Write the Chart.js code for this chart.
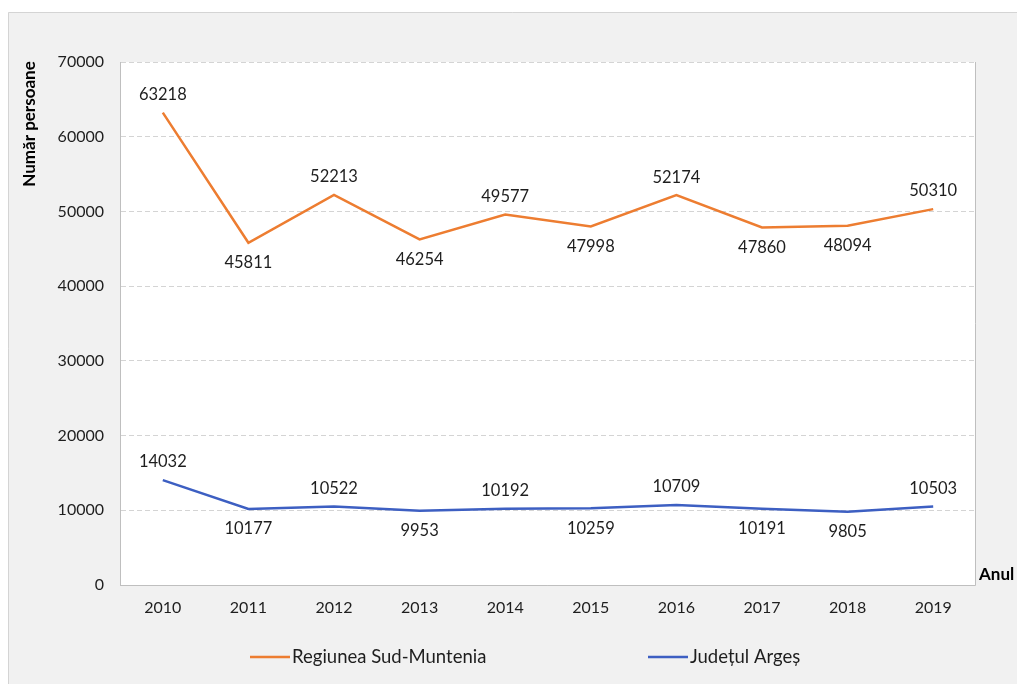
<!DOCTYPE html>
<html>
<head>
<meta charset="utf-8">
<script src="https://cdn.jsdelivr.net/npm/chart.js@4.4.1/dist/chart.umd.min.js"></script>
<style>
    html, body { margin: 0; padding: 0; background: #fff; }
    #wrap { position: relative; width: 1017px; height: 684px; }
</style>
</head>
<body>
<div id="wrap"><canvas id="chart" width="1017" height="684"></canvas></div>
<script>
// Data
const years = ['2010', '2011', '2012', '2013', '2014', '2015', '2016', '2017', '2018', '2019'];
const sudMuntenia = [63218, 45811, 52213, 46254, 49577, 47998, 52174, 47860, 48094, 50310];
const arges = [14032, 10177, 10522, 9953, 10192, 10259, 10709, 10191, 9805, 10503];
const yTicks = [0, 10000, 20000, 30000, 40000, 50000, 60000, 70000];

// label above (-1) or below (+1) each point
const labelSide = [-1, 1, -1, 1, -1, 1, -1, 1, 1, -1];

const FONT = 'Lato, "Open Sans", sans-serif';

const framePlugin = {
    id: 'frame',
    beforeDraw: (chart) => {
        const { ctx, chartArea: a, width, height } = chart;
        ctx.save();
        ctx.fillStyle = '#f1f1f1';
        ctx.fillRect(0, 0, width, height);
        ctx.fillStyle = '#ffffff';
        ctx.fillRect(0, 0, width, 12);
        ctx.fillRect(0, 0, 8, height);
        ctx.strokeStyle = '#d4d4d4';
        ctx.lineWidth = 1;
        ctx.beginPath();
        ctx.moveTo(8.5, height);
        ctx.lineTo(8.5, 12.5);
        ctx.lineTo(width, 12.5);
        ctx.stroke();
        // plot area
        ctx.fillStyle = '#ffffff';
        ctx.fillRect(a.left, a.top, a.right - a.left, a.bottom - a.top);
        ctx.restore();
    },
    beforeDatasetsDraw: (chart) => {
        const { ctx, chartArea: a } = chart;
        ctx.save();
        ctx.strokeStyle = '#bfbfbf';
        ctx.lineWidth = 1;
        ctx.beginPath();
        ctx.moveTo(a.left, Math.round(a.bottom) + 0.5);
        ctx.lineTo(a.right - 0.5, Math.round(a.bottom) + 0.5);
        ctx.lineTo(a.right - 0.5, a.top);
        ctx.stroke();
        ctx.restore();
    },
    afterDraw: (chart) => {
        const { ctx } = chart;
        ctx.save();
        // axis titles
        ctx.fillStyle = '#000';
        ctx.font = 'bold 17px ' + FONT;
        ctx.textAlign = 'center';
        ctx.textBaseline = 'middle';
        ctx.translate(30, 124);
        ctx.rotate(-Math.PI / 2);
        ctx.fillText('Număr persoane', 0, 0);
        ctx.setTransform(1, 0, 0, 1, 0, 0);
        ctx.textAlign = 'left';
        ctx.font = 'bold 17px ' + FONT;
        ctx.fillText('Anul', 979, 575);

        // data labels
        ctx.font = '16.5px ' + FONT;
        ctx.fillStyle = '#1e1e1e';
        ctx.textAlign = 'center';
        chart.data.datasets.forEach((ds, i) => {
            const meta = chart.getDatasetMeta(i);
            meta.data.forEach((pt, j) => {
                const side = labelSide[j];
                const y = pt.y + side * (side < 0 ? 18 : 20);
                ctx.fillText(String(ds.data[j]), pt.x, y);
            });
        });

        // legend
        ctx.font = '18.5px ' + FONT;
        ctx.textAlign = 'left';
        ctx.fillStyle = '#1e1e1e';
        const legendX = [250, 648];
        chart.data.datasets.forEach((ds, i) => {
            const x = legendX[i];
            const y = 657;
            ctx.strokeStyle = ds.borderColor;
            ctx.lineWidth = 2.5;
            ctx.beginPath();
            ctx.moveTo(x, y);
            ctx.lineTo(x + 40, y);
            ctx.stroke();
            ctx.fillText(ds.label, x + 42, y);
        });
        ctx.restore();
    }
};

const config = {
    type: 'line',
    data: {
        labels: years,
        datasets: [{
            label: 'Regiunea Sud-Muntenia',
            data: sudMuntenia,
            borderColor: '#ed7d31',
            backgroundColor: '#ed7d31',
            borderWidth: 2.5,
            pointRadius: 0,
            tension: 0
        }, {
            label: 'Județul Argeș',
            data: arges,
            borderColor: '#3d5fc2',
            backgroundColor: '#3d5fc2',
            borderWidth: 2.5,
            pointRadius: 0,
            tension: 0
        }]
    },
    options: {
        responsive: false,
        animation: false,
        layout: { padding: { left: 0, right: 41, top: 62, bottom: 0 } },
        plugins: {
            legend: { display: false },
            tooltip: { enabled: false }
        },
        scales: {
            x: {
                offset: true,
                grid: { display: false, drawTicks: false },
                border: { display: false },
                ticks: { color: '#1e1e1e', font: { family: FONT, size: 16 }, padding: 13 },
                afterFit: (scale) => { scale.height = 99; }
            },
            y: {
                min: 0,
                max: 70000,
                afterBuildTicks: (scale) => { scale.ticks = yTicks.map(v => ({ value: v })); },
                grid: { color: '#d4d4d4', drawTicks: false },
                border: { display: true, color: '#bfbfbf', dash: [5, 3] },
                ticks: {
                    color: '#1e1e1e',
                    font: { family: FONT, size: 16 },
                    padding: 16,
                    callback: (v) => String(v)
                },
                afterFit: (scale) => { scale.width = 120; }
            }
        }
    },
    plugins: [framePlugin]
};

new Chart(document.getElementById('chart'), config);
</script>
</body>
</html>
